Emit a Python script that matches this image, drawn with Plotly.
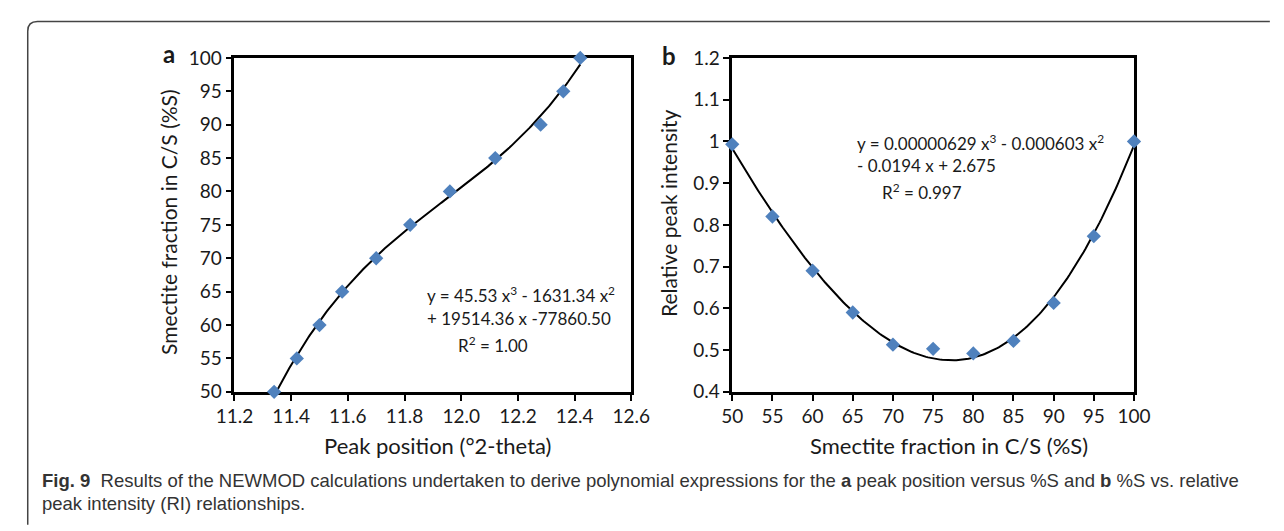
import numpy as np
import plotly.graph_objects as go

# ---- Data ----
peak_position = [11.34, 11.42, 11.50, 11.58, 11.70, 11.82, 11.96, 12.12, 12.28, 12.36, 12.42]
smectite_a = [50, 55, 60, 65, 70, 75, 80, 85, 90, 95, 100]

smectite_b = [50, 55, 60, 65, 70, 75, 80, 85, 90, 95, 100]
rel_intensity = [0.993, 0.820, 0.690, 0.590, 0.513, 0.503, 0.492, 0.522, 0.613, 0.773, 1.000]

x_ticks_a = [11.2, 11.4, 11.6, 11.8, 12.0, 12.2, 12.4, 12.6]
y_ticks_a = [50, 55, 60, 65, 70, 75, 80, 85, 90, 95, 100]
x_ticks_b = [50, 55, 60, 65, 70, 75, 80, 85, 90, 95, 100]
y_ticks_b = [0.4, 0.5, 0.6, 0.7, 0.8, 0.9, 1.0, 1.1, 1.2]
y_ticktext_b = ["0.4", "0.5", "0.6", "0.7", "0.8", "0.9", "1", "1.1", "1.2"]

# cubic trendlines (as the spreadsheet trendline)
ca = np.polyfit(peak_position, smectite_a, 3)
xa_fit = np.linspace(min(peak_position), max(peak_position), 200)
ya_fit = np.polyval(ca, xa_fit)
cb = np.polyfit(smectite_b, rel_intensity, 3)
xb_fit = np.linspace(min(smectite_b), max(smectite_b), 200)
yb_fit = np.polyval(cb, xb_fit)

W, H = 1284, 531
def px(x):
    return x / W
def py(y):
    return 1 - y / H

MARKER = dict(symbol="diamond", size=11, color="#4F81BD")
FONT = "Lato, 'Open Sans', sans-serif"
TXT = "#1a1a1a"

fig = go.Figure()
fig.add_trace(go.Scatter(x=xa_fit, y=ya_fit, mode="lines", line=dict(color="black", width=2),
                         xaxis="x", yaxis="y", showlegend=False, hoverinfo="skip"))
fig.add_trace(go.Scatter(x=peak_position, y=smectite_a, mode="markers", marker=MARKER,
                         xaxis="x", yaxis="y", showlegend=False, cliponaxis=False))
fig.add_trace(go.Scatter(x=xb_fit, y=yb_fit, mode="lines", line=dict(color="black", width=2),
                         xaxis="x2", yaxis="y2", showlegend=False, hoverinfo="skip"))
fig.add_trace(go.Scatter(x=smectite_b, y=rel_intensity, mode="markers", marker=MARKER,
                         xaxis="x2", yaxis="y2", showlegend=False, cliponaxis=False))

axis_common = dict(showline=True, linecolor="black", linewidth=2.5, mirror=True,
                   ticks="outside", ticklen=6, tickwidth=2, tickcolor="black",
                   showgrid=False, zeroline=False, layer="below traces",
                   tickfont=dict(family=FONT, size=19, color=TXT))

fig.update_layout(
    width=W, height=H,
    margin=dict(l=0, r=0, t=0, b=0),
    paper_bgcolor="white", plot_bgcolor="white",
    xaxis=dict(domain=[px(222), px(631)], range=[11.2, 12.6], tickvals=x_ticks_a,
               tickformat=".1f", anchor="y", **axis_common),
    yaxis=dict(domain=[py(397), py(48)], range=[50, 100], tickvals=y_ticks_a,
               anchor="x", **axis_common),
    xaxis2=dict(domain=[px(735), px(1149)], range=[50, 100], tickvals=x_ticks_b,
                anchor="y2", **axis_common),
    yaxis2=dict(domain=[py(397), py(48)], range=[0.4, 1.2], tickvals=y_ticks_b,
                ticktext=y_ticktext_b, anchor="x2", **axis_common),
)

ann = []
def add_text(x, y, text, size, xanchor="center", yanchor="middle", angle=0, family=FONT, color=TXT):
    ann.append(dict(x=px(x), y=py(y), xref="paper", yref="paper", text=text, showarrow=False,
                    xanchor=xanchor, yanchor=yanchor, textangle=angle,
                    font=dict(family=family, size=size, color=color)))

# panel letters
add_text(155, 43, "<b>a</b>", 24)
add_text(670, 45, "<b>b</b>", 24)
# axis titles
add_text(431, 453, "Peak position (°2-theta)", 22)
add_text(958, 453, "Smectite fraction in C/S (%S)", 22)
add_text(154, 219, "Smectite fraction in C/S (%S)", 21, angle=-90)
add_text(670, 210, "Relative peak intensity", 21, angle=-90)
# equations
add_text(418, 295, "y = 45.53 x<sup>3</sup> - 1631.34 x<sup>2</sup>", 17, xanchor="left")
add_text(418, 320, "+ 19514.36 x -77860.50", 17, xanchor="left")
add_text(450, 348, "R<sup>2</sup> = 1.00", 17, xanchor="left")
add_text(862, 136, "y = 0.00000629 x<sup>3</sup> - 0.000603 x<sup>2</sup>", 17, xanchor="left")
add_text(862, 160, "- 0.0194 x + 2.675", 17, xanchor="left")
add_text(887, 188, "R<sup>2</sup> = 0.997", 17, xanchor="left")
# caption
CAP = "'Liberation Sans', sans-serif"
add_text(22, 490, "<b>Fig. 9</b>  Results of the NEWMOD calculations undertaken to derive polynomial expressions for the <b>a</b> peak position versus %S and <b>b</b> %S vs. relative",
         18.5, xanchor="left", family=CAP, color="#333333")
add_text(22, 514, "peak intensity (RI) relationships.", 18.5, xanchor="left", family=CAP, color="#333333")

fig.update_layout(annotations=ann)

# rounded frame (top + left edges)
r = 10
x0, y0 = 9, 10
path = (f"M {px(x0)},{py(H + 5)} L {px(x0)},{py(y0 + r)} "
        f"Q {px(x0)},{py(y0)} {px(x0 + r)},{py(y0)} L {px(W + 5)},{py(y0)}")
fig.add_shape(type="path", xref="paper", yref="paper", path=path,
              line=dict(color="#444444", width=1.5))

fig.write_html("out.html", config={"displayModeBar": False},
               post_script="document.body.style.margin='0';document.body.style.overflow='hidden';")
